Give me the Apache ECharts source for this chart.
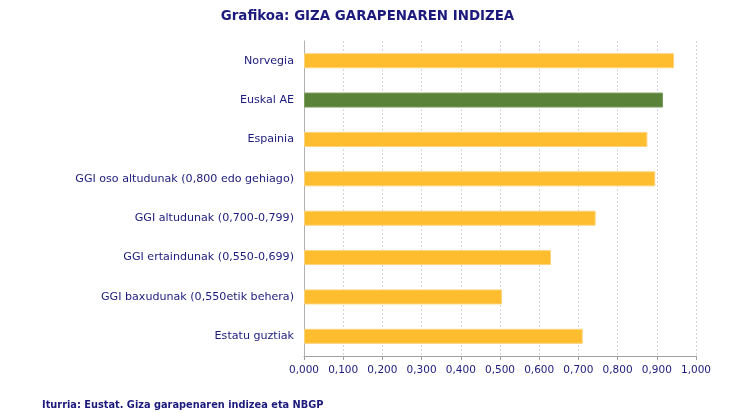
<!DOCTYPE html>
<html><head><meta charset="utf-8">
<script src="https://cdn.jsdelivr.net/npm/echarts@6/dist/echarts.min.js"></script>
<style>html,body{margin:0;padding:0;background:#fff}#c{width:735px;height:413px}</style>
</head><body><div id="c"></div>
<script>
const categories = ["Norvegia","Euskal AE","Espainia","GGI oso altudunak (0,800 edo gehiago)","GGI altudunak (0,700-0,799)","GGI ertaindunak (0,550-0,699)","GGI baxudunak (0,550etik behera)","Estatu guztiak"];
const values = [0.944,0.916,0.876,0.896,0.744,0.630,0.505,0.711];
const highlight = "Euskal AE";
const titleText = "Grafikoa: GIZA GARAPENAREN INDIZEA";
const sourceText = "Iturria: Eustat. Giza garapenaren indizea eta NBGP";

const navy = "#1c1a7c";
const font = "DejaVu Sans";
const chart = echarts.init(document.getElementById('c'));
chart.setOption({
  animation:false,
  textStyle:{fontFamily:font},
  title:[{text:titleText,left:'center',top:5,textStyle:{fontFamily:font,fontSize:13.4,fontWeight:'bold',color:navy}},
         {text:sourceText,left:37,top:395,textStyle:{fontFamily:font,fontSize:9.8,fontWeight:'bold',color:navy}}],
  grid:{left:304,right:39,top:41,bottom:57},
  xAxis:{type:'value',min:0,max:1,interval:0.1,
    axisLine:{show:true,lineStyle:{color:'#a0a0a0'}},
    axisTick:{show:true,length:4,lineStyle:{color:'#a0a0a0'}},
    axisLabel:{color:navy,fontSize:10.5,fontFamily:font,margin:9,formatter:v=>v.toFixed(3).replace('.',',')},
    splitLine:{show:true,lineStyle:{color:'#d6d6d6',type:[2,2]}}},
  yAxis:{type:'category',data:categories,inverse:true,
    axisLine:{show:true,lineStyle:{color:'#b0b0b0'}},
    axisTick:{show:false},
    axisLabel:{color:navy,fontSize:11.1,fontFamily:font,margin:10}},
  series:[{type:'bar',barWidth:15,
    data:values.map((v,i)=>({value:v,itemStyle:categories[i]===highlight?{color:'#5b8239',borderColor:'#7c9c60',borderWidth:1}:{color:'#fdbd2e',borderColor:'#fdd37a',borderWidth:1}}))}]
});
</script></body></html>
